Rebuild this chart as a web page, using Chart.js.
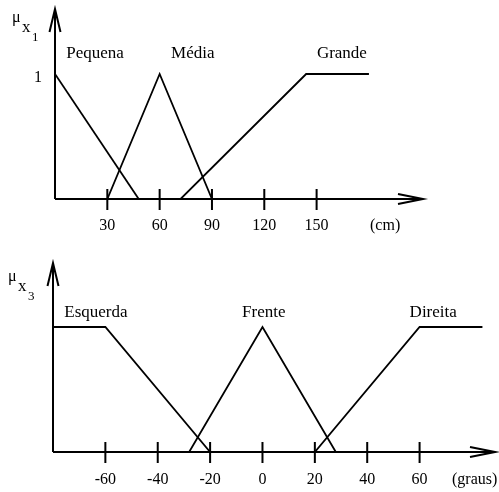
<!DOCTYPE html>
<html>
<head>
<meta charset="utf-8">
<script src="https://cdn.jsdelivr.net/npm/chart.js@4/dist/chart.umd.min.js"></script>
<style>
  html, body { margin: 0; padding: 0; background: #fff; }
  canvas { display: block; }
</style>
</head>
<body>
<canvas id="dist" width="499" height="246"></canvas>
<canvas id="ang" width="499" height="246"></canvas>
<script>
// Distance (cm) membership functions
const distTicks = [30, 60, 90, 120, 150];
const pequenaX = [0, 48];
const pequenaY = [1, 0];
const mediaX = [30, 60, 90];
const mediaY = [0, 1, 0];
const grandeX = [72, 144, 180];
const grandeY = [0, 1, 1];

// Angle (graus) membership functions
const angTicks = [-60, -40, -20, 0, 20, 40, 60];
const esquerdaX = [-80, -60, -20];
const esquerdaY = [1, 1, 0];
const frenteX = [-28, 0, 28];
const frenteY = [0, 1, 0];
const direitaX = [20, 60, 84];
const direitaY = [0, 1, 1];

const SERIF = '"Liberation Serif", "Times New Roman", serif';

function pts(xs, ys) {
  return xs.map((x, i) => ({ x: x, y: ys[i] }));
}

function lineSet(name, xs, ys) {
  return {
    label: name,
    data: pts(xs, ys),
    showLine: true,
    borderColor: '#000',
    borderWidth: 1.8,
    pointRadius: 0,
    fill: false,
    tension: 0
  };
}

// Draws the arrowed axes, crossing ticks, tick labels and annotations
function axesPlugin(cfg) {
  return {
    id: 'fuzzyAxes',
    afterDraw(chart) {
      const ctx = chart.ctx;
      const xs = chart.scales.x, ys = chart.scales.y;
      const a = chart.chartArea;
      const x0 = a.left, y0 = ys.getPixelForValue(0);
      ctx.save();
      ctx.strokeStyle = '#000';
      ctx.fillStyle = '#000';
      ctx.lineWidth = 2;
      ctx.lineCap = 'butt';
      // y axis with open arrowhead
      ctx.beginPath();
      ctx.moveTo(x0, y0);
      ctx.lineTo(x0, a.top);
      ctx.moveTo(x0 - 5.5, a.top + 23);
      ctx.lineTo(x0, a.top);
      ctx.lineTo(x0 + 5.5, a.top + 23);
      ctx.stroke();
      // x axis with open arrowhead
      ctx.beginPath();
      ctx.moveTo(x0, y0);
      ctx.lineTo(a.right, y0);
      ctx.moveTo(a.right - 25, y0 - 5);
      ctx.lineTo(a.right, y0);
      ctx.lineTo(a.right - 25, y0 + 5);
      ctx.stroke();
      // ticks
      ctx.beginPath();
      cfg.ticks.forEach(t => {
        const px = xs.getPixelForValue(t);
        ctx.moveTo(px, y0 - 10);
        ctx.lineTo(px, y0 + 11);
      });
      ctx.stroke();
      // tick labels
      ctx.font = '16px ' + SERIF;
      ctx.textAlign = 'center';
      ctx.textBaseline = 'alphabetic';
      cfg.ticks.forEach(t => {
        ctx.fillText(String(t), xs.getPixelForValue(t), y0 + cfg.tickLabelDy);
      });
      ctx.textAlign = 'left';
      ctx.fillText(cfg.unit, cfg.unitX, y0 + cfg.tickLabelDy);
      // membership level 1
      if (cfg.showOne) {
        ctx.textAlign = 'right';
        ctx.fillText('1', x0 - 13, ys.getPixelForValue(1) + 8);
      }
      // series names
      ctx.font = '17px ' + SERIF;
      ctx.textAlign = 'center';
      cfg.names.forEach(n => {
        ctx.fillText(n.text, xs.getPixelForValue(n.x), ys.getPixelForValue(cfg.nameLevel));
      });
      // mu with subscripts
      ctx.textAlign = 'left';
      const m = cfg.mu;
      ctx.font = '16px ' + SERIF;
      ctx.fillText('\u03bc', m.x, m.y);
      ctx.font = '17px ' + SERIF;
      ctx.fillText('x', m.x + 10, m.y + 10);
      ctx.font = '13px ' + SERIF;
      ctx.fillText(m.sub, m.x + 20, m.y + 19);
      ctx.restore();
    }
  };
}

function makeChart(id, datasets, xr, yMax, padding, cfg) {
  return new Chart(document.getElementById(id), {
    type: 'scatter',
    data: { datasets: datasets },
    options: {
      responsive: false,
      animation: false,
      devicePixelRatio: 1,
      layout: { padding: padding },
      plugins: { legend: { display: false }, tooltip: { enabled: false } },
      scales: {
        x: { type: 'linear', min: xr[0], max: xr[1], display: false },
        y: { type: 'linear', min: 0, max: yMax, display: false }
      }
    },
    plugins: [axesPlugin(cfg)]
  });
}

makeChart('dist', [
  lineSet('Pequena', pequenaX, pequenaY),
  lineSet('Média', mediaX, mediaY),
  lineSet('Grande', grandeX, grandeY)
], [0, 211], 1.52, { left: 55, right: 76, top: 9, bottom: 47 }, {
  ticks: distTicks,
  tickLabelDy: 31,
  unit: '(cm)',
  unitX: 370,
  showOne: true,
  nameLevel: 1.13,
  names: [
    { text: 'Pequena', x: 23 },
    { text: 'Média', x: 79 },
    { text: 'Grande', x: 164.5 }
  ],
  mu: { x: 12, y: 22, sub: '1' }
});

makeChart('ang', [
  lineSet('Esquerda', esquerdaX, esquerdaY),
  lineSet('Frente', frenteX, frenteY),
  lineSet('Direita', direitaX, direitaY)
], [-80, 88.8], 1.512, { left: 53, right: 4, top: 17, bottom: 40 }, {
  ticks: angTicks,
  tickLabelDy: 32,
  unit: '(graus)',
  unitX: 452,
  showOne: false,
  nameLevel: 1.08,
  names: [
    { text: 'Esquerda', x: -63.6 },
    { text: 'Frente', x: 0.5 },
    { text: 'Direita', x: 65.2 }
  ],
  mu: { x: 8, y: 35, sub: '3' }
});
</script>
</body>
</html>
